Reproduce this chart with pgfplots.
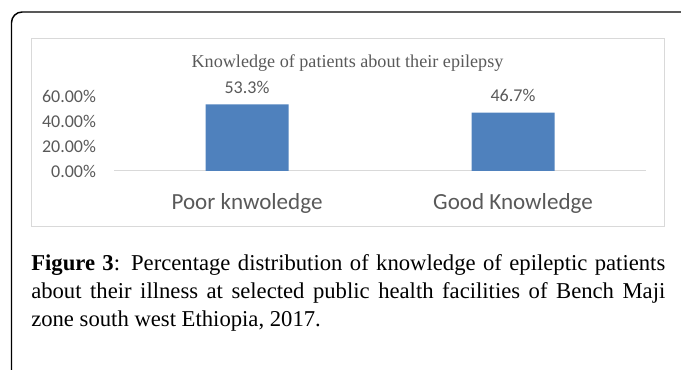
\documentclass[border=0pt]{standalone}
\usepackage{pgfplots}
\pgfplotsset{compat=1.18}
\usepackage{fontspec}
\setmainfont{Liberation Serif}
\newfontfamily\calib{Carlito}

\definecolor{barblue}{RGB}{79,129,189}
\definecolor{txtgray}{RGB}{89,89,89}
\definecolor{framegray}{RGB}{217,217,217}

\begin{document}
\begin{tikzpicture}[x=0.75pt,y=-0.75pt]
  % page extent
  \useasboundingbox (0,0) rectangle (681,370);

  % outer rounded frame (top and left edges)
  \draw[black,line width=1.1pt,rounded corners=8pt] (11.5,372) -- (11.5,12) -- (683,12);

  % chart area border
  \draw[framegray,line width=0.75pt] (31,39) rectangle (664,227);

  % chart title
  \node[anchor=base,text=txtgray,font=\fontsize{13.6}{15}\selectfont] at (347.5,68)
    {Knowledge of patients about their epilepsy};

  \coordinate (O) at (114,171);
  \begin{axis}[
    at={(O)}, anchor=south west,
    scale only axis,
    width=399pt, height=65.625pt,
    xmin=-0.5, xmax=1.5,
    ymin=0, ymax=70,
    clip=false,
    axis x line*=bottom,
    axis y line*=left,
    x axis line style={draw=framegray,line width=0.75pt,-},
    y axis line style={draw=none},
    major tick length=0pt,
    xtick={0,1},
    xticklabels={Poor knwoledge, Good Knowledge},
    ytick={0,20,40,60},
    yticklabels={0.00\%,20.00\%,40.00\%,60.00\%},
    x tick label style={font=\calib\fontsize{17.3}{20}\selectfont,text=txtgray,
      anchor=base,yshift=-28.5pt},
    y tick label style={font=\calib\fontsize{13.5}{16}\selectfont,text=txtgray,
      anchor=east,xshift=-10pt},
    ybar,
    bar width=62.25pt,
    nodes near coords={\pgfmathprintnumber[fixed,precision=1,fixed zerofill,
      assume math mode=true]{\pgfplotspointmeta}\%},
    every node near coord/.append style={font=\calib\fontsize{13.5}{16}\selectfont,
      text=txtgray,anchor=base,yshift=8pt},
  ]
    \addplot[fill=barblue,draw=none] coordinates {(0,53.3) (1,46.7)};
  \end{axis}

  % caption, three lines, the first two spread to the full width
  \begin{scope}[every node/.style={anchor=base west,inner sep=0pt,text=black,
      font=\fontsize{17}{21}\selectfont}]
    \node at (31,270) {\makebox[475.5pt][s]{\textbf{Figure 3}: Percentage distribution of knowledge of epileptic patients}};
    \node at (31,298) {\makebox[475.5pt][s]{about their illness at selected public health facilities of Bench Maji}};
    \node at (31,326) {zone south west Ethiopia, 2017.};
  \end{scope}
\end{tikzpicture}
\end{document}
